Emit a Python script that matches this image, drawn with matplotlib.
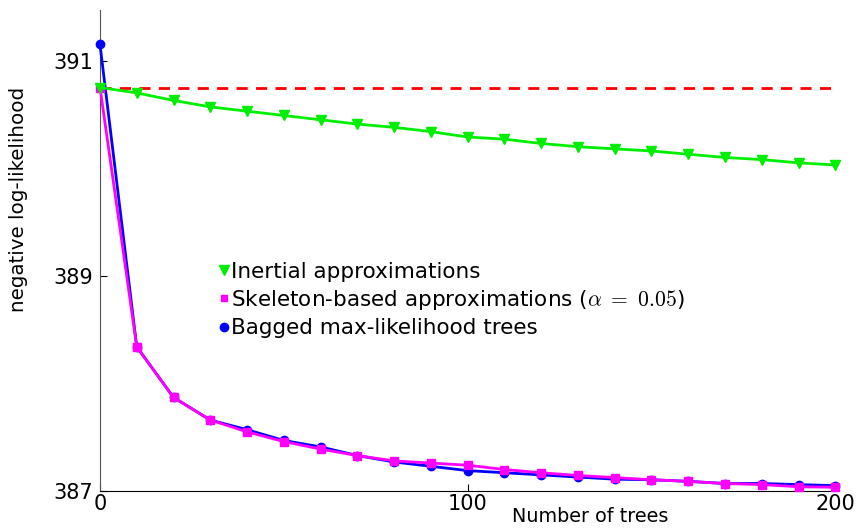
import numpy as np
import matplotlib
matplotlib.use('Agg')
import matplotlib.pyplot as plt
from matplotlib.lines import Line2D

trees = np.arange(0, 201, 10)

inertial = [390.75, 390.70, 390.63, 390.57, 390.53, 390.49, 390.45, 390.41,
            390.38, 390.34, 390.29, 390.27, 390.23, 390.20, 390.18, 390.16,
            390.13, 390.10, 390.08, 390.05, 390.03]
skeleton = [390.75, 388.34, 387.87, 387.66, 387.55, 387.46, 387.39, 387.33,
            387.28, 387.26, 387.24, 387.20, 387.17, 387.145, 387.125, 387.105,
            387.09, 387.07, 387.06, 387.04, 387.035]
bagged = [391.15, 388.34, 387.87, 387.66, 387.57, 387.47, 387.41, 387.33,
          387.27, 387.23, 387.19, 387.17, 387.15, 387.13, 387.11, 387.105,
          387.09, 387.07, 387.07, 387.06, 387.05]
baseline = 390.75

labels = ['Inertial approximations',
          r'Skeleton-based approximations ($\alpha\ =\ 0.05$)',
          'Bagged max-likelihood trees']

plt.rcParams['mathtext.fontset'] = 'cm'
fig = plt.figure(figsize=(8.62, 5.28), dpi=100)
ax = fig.add_axes([0.116, 0.070, 0.853, 0.911])

ax.plot(trees, bagged, color='#0000ff', lw=2, marker='o', ms=6, clip_on=False, zorder=3)
ax.plot(trees, skeleton, color='#ff00ff', lw=2, marker='s', ms=6, clip_on=False, zorder=4)
ax.plot(trees, inertial, color='#00ee00', lw=2, marker='v', ms=7, clip_on=False, zorder=5)
ax.plot([0, 200], [baseline, baseline], color='#ff0000', lw=2, ls=(0, (4, 3)), zorder=2)

ax.set_xlim(0, 200)
ax.set_ylim(387, 391.47)
ax.set_xticks([0, 100, 200])
ax.set_yticks([387, 389, 391])
ax.spines['top'].set_visible(False)
ax.spines['right'].set_visible(False)
ax.spines['left'].set_color('#555555')
ax.tick_params(direction='in', labelsize=15, length=5)
ax.tick_params(axis='x', pad=2)
ax.tick_params(axis='y', pad=5)

fig.text(0.021, 0.623, 'negative log-likelihood', rotation=90, fontsize=14.3,
         ha='center', va='center')
fig.text(0.685, 0.021, 'Number of trees', fontsize=13.8, ha='center', va='center')

handles = [Line2D([], [], color='#00ee00', marker='v', ls='none', ms=7),
           Line2D([], [], color='#ff00ff', marker='s', ms=5, ls='none'),
           Line2D([], [], color='#0000ff', marker='o', ms=6, ls='none')]
ax.legend(handles, labels, loc='upper left', bbox_to_anchor=(0.242, 0.525),
          bbox_transform=fig.transFigure, frameon=False, fontsize=15.5,
          handlelength=0.4, handletextpad=0.15, labelspacing=0.3, borderpad=0)

plt.savefig('out.png')
